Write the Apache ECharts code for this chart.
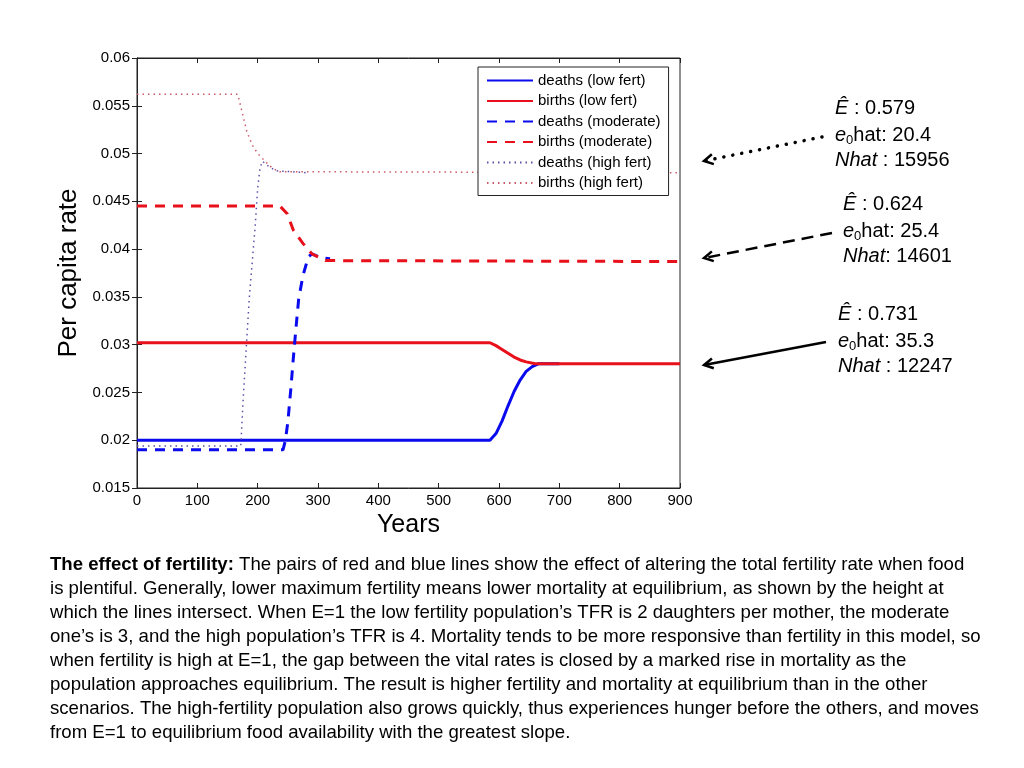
<!DOCTYPE html>
<html><head><meta charset="utf-8">
<script src="https://cdn.jsdelivr.net/npm/echarts/dist/echarts.min.js"></script>
<style>html,body{margin:0;padding:0;background:#fff}#c{width:1024px;height:768px}</style>
</head><body><div id="c"></div>
<script>
// ---- data (x = years, y = per capita rate) ----
const deathsLow  = [[0,0.0200],[585,0.0200],[595,0.0207],[605,0.0220],[615,0.0236],[625,0.0251],[635,0.0263],[645,0.0272],[655,0.0277],[665,0.0280],[700,0.0280]];
const birthsLow  = [[0,0.0302],[585,0.0302],[595,0.0299],[605,0.0295],[615,0.0291],[625,0.0287],[635,0.0284],[645,0.0282],[660,0.0280],[900,0.0280]];
const deathsMod  = [[0,0.0190],[242,0.0190],[246,0.0200],[250,0.0219],[255,0.0254],[259,0.0285],[263,0.0314],[268,0.0348],[275,0.0372],[284,0.0392],[290,0.0395],[305,0.0391],[320,0.0390]];
const birthsMod  = [[0,0.0445],[237,0.0445],[249,0.0437],[259,0.0420],[275,0.0406],[290,0.0395],[312,0.0388],[900,0.0387]];
const deathsHigh = [[0,0.0194],[172,0.0194],[176,0.0243],[181,0.0296],[186,0.0348],[196,0.0425],[200,0.0464],[204,0.0485],[208,0.0492],[215,0.0488],[230,0.0482],[280,0.0480]];
const birthsHigh = [[0,0.0562],[167,0.0562],[174,0.0544],[182,0.0523],[191,0.0509],[200,0.0500],[220,0.0487],[234,0.0481],[900,0.0480]];
const seriesNames = ['deaths (low fert)','births (low fert)','deaths (moderate)','births (moderate)','deaths (high fert)','births (high fert)'];
const annotations = [
  ['0.579','20.4','15956',' : '],
  ['0.624','25.4','14601',': '],
  ['0.731','35.3','12247',' : ']
];
const captionLines = [
  ' The pairs of red and blue lines show the effect of altering the total fertility rate when food',
  'is plentiful. Generally, lower maximum fertility means lower mortality at equilibrium, as shown by the height at',
  'which the lines intersect. When E=1 the low fertility population’s TFR is 2 daughters per mother, the moderate',
  'one’s is 3, and the high population’s TFR is 4. Mortality tends to be more responsive than fertility in this model, so',
  'when fertility is high at E=1, the gap between the vital rates is closed by a marked rise in mortality as the',
  'population approaches equilibrium. The result is higher fertility and mortality at equilibrium than in the other',
  'scenarios. The high-fertility population also grows quickly, thus experiences hunger before the others, and moves',
  'from E=1 to equilibrium food availability with the greatest slope.'
];

const FONT = 'Liberation Sans, Arial, Helvetica, sans-serif';
const chart = echarts.init(document.getElementById('c'));

function mk(name, data, color, type, width){
  return {name, type:'line', data, symbol:'none', showSymbol:false, smooth:false,
    lineStyle:{color, width, type, cap:'butt'}, itemStyle:{color}, z: 3};
}

function arrow(x1,y1,x2,y2,dash,cap,lw){
  const dx=x2-x1, dy=y2-y1, L=Math.hypot(dx,dy), ux=dx/L, uy=dy/L;
  const a=9, w=5, bx=x2-ux*a, by=y2-uy*a, px=-uy, py=ux;
  return [
    {type:'line', shape:{x1,y1,x2,y2}, style:{stroke:'#000', lineWidth:lw||2.5, lineDash:dash, lineCap:cap||'butt'}},
    {type:'polyline', shape:{points:[[bx+px*w,by+py*w],[x2,y2],[bx-px*w,by-py*w]]}, style:{stroke:'#000', lineWidth:2.5, fill:null}}
  ];
}

const rich = {
  i:{fontStyle:'italic', fontSize:20, fontFamily:FONT, lineHeight:24, fill:'#000'},
  n:{fontSize:20, fontFamily:FONT, lineHeight:24, fill:'#000'},
  s:{fontSize:13, fontFamily:FONT, lineHeight:14, verticalAlign:'bottom', fill:'#000'}
};
const blocks = [[835,110],[843,206],[838,316]];
const graphics = [];
annotations.forEach((a,k)=>{
  const [bx,by] = blocks[k];
  graphics.push({type:'text', left:bx, top:by-12, style:{text:'{i|Ê}{n| : '+a[0]+'}', rich}});
  graphics.push({type:'text', left:bx, top:by+15, style:{text:'{i|e}{s|0}{n|hat: '+a[1]+'}', rich}});
  graphics.push({type:'text', left:bx, top:by+40, style:{text:'{i|Nhat}{n|'+a[3]+a[2]+'}', rich}});
});
graphics.push(...arrow(822,137,704,161,[0.1,9],'round',3.5));
graphics.push(...arrow(832,233,704,258,[12,7]));
graphics.push(...arrow(826,342,704,365,null));
captionLines.forEach((t,k)=>{
  const txt = k===0 ? '{b|The effect of fertility:}{c|'+t+'}' : '{c|'+t+'}';
  graphics.push({type:'text', left:50, top:555+k*24, style:{text:txt, rich:{
    b:{fontWeight:'bold', fontSize:18.6, fontFamily:FONT, fill:'#000'},
    c:{fontSize:18.6, fontFamily:FONT, fill:'#000'}
  }}});
});

const xCommon = {type:'value', min:0, max:900, interval:100};
const yCommon = {type:'value', min:0.015, max:0.06, interval:0.005};
chart.setOption({
  animation:false,
  backgroundColor:'#fff',
  grid:{left:137, right:344, top:58, bottom:280, show:true, borderColor:'#222', borderWidth:1, backgroundColor:'transparent'},
  legend:{
    data:seriesNames, orient:'vertical', left:478, top:67,
    itemWidth:46, itemHeight:14, itemGap:5.5,
    itemStyle:{color:'rgba(0,0,0,0)', borderWidth:0, opacity:0},
    padding:[6,8,5,8], borderColor:'#222', borderWidth:1, backgroundColor:'#fff',
    textStyle:{fontSize:15, fontFamily:FONT, color:'#000'}, selectedMode:false
  },
  xAxis:[
    Object.assign({}, xCommon, {position:'bottom', name:'Years', nameLocation:'middle', nameGap:21,
      nameTextStyle:{fontSize:25, fontFamily:FONT, color:'#000'},
      axisLine:{show:true, lineStyle:{color:'#222'}}, axisTick:{inside:true, length:5, lineStyle:{color:'#222'}},
      axisLabel:{fontSize:15, fontFamily:FONT, color:'#000', margin:5}, splitLine:{show:false}}),
    Object.assign({}, xCommon, {position:'top', axisLine:{show:true, lineStyle:{color:'#222'}},
      axisTick:{inside:true, length:5, lineStyle:{color:'#222'}}, axisLabel:{show:false}, splitLine:{show:false}})
  ],
  yAxis:[
    Object.assign({}, yCommon, {position:'left', name:'Per capita rate', nameLocation:'middle', nameGap:54,
      nameTextStyle:{fontSize:26, fontFamily:FONT, color:'#000'},
      axisLine:{show:true, lineStyle:{color:'#222'}}, axisTick:{inside:true, length:5, lineStyle:{color:'#222'}},
      axisLabel:{fontSize:15, fontFamily:FONT, color:'#000', margin:7, formatter:v=>String(+v.toFixed(3))}, splitLine:{show:false}}),
    Object.assign({}, yCommon, {position:'right', axisLine:{show:true, lineStyle:{color:'#222'}},
      axisTick:{inside:true, length:5, lineStyle:{color:'#222'}}, axisLabel:{show:false}, splitLine:{show:false}})
  ],
  series:[
    mk(seriesNames[0], deathsLow,  '#0a0aee', 'solid', 3),
    mk(seriesNames[1], birthsLow,  '#e8101a', 'solid', 3),
    mk(seriesNames[2], deathsMod,  '#0a0aee', [10,8], 3),
    mk(seriesNames[3], birthsMod,  '#e8101a', [10,8], 3),
    mk(seriesNames[4], deathsHigh, '#5a50a8', [1.5,4], 1.5),
    mk(seriesNames[5], birthsHigh, '#cc5a6a', [1.5,4], 1.5)
  ],
  graphic: graphics
});
</script></body></html>
